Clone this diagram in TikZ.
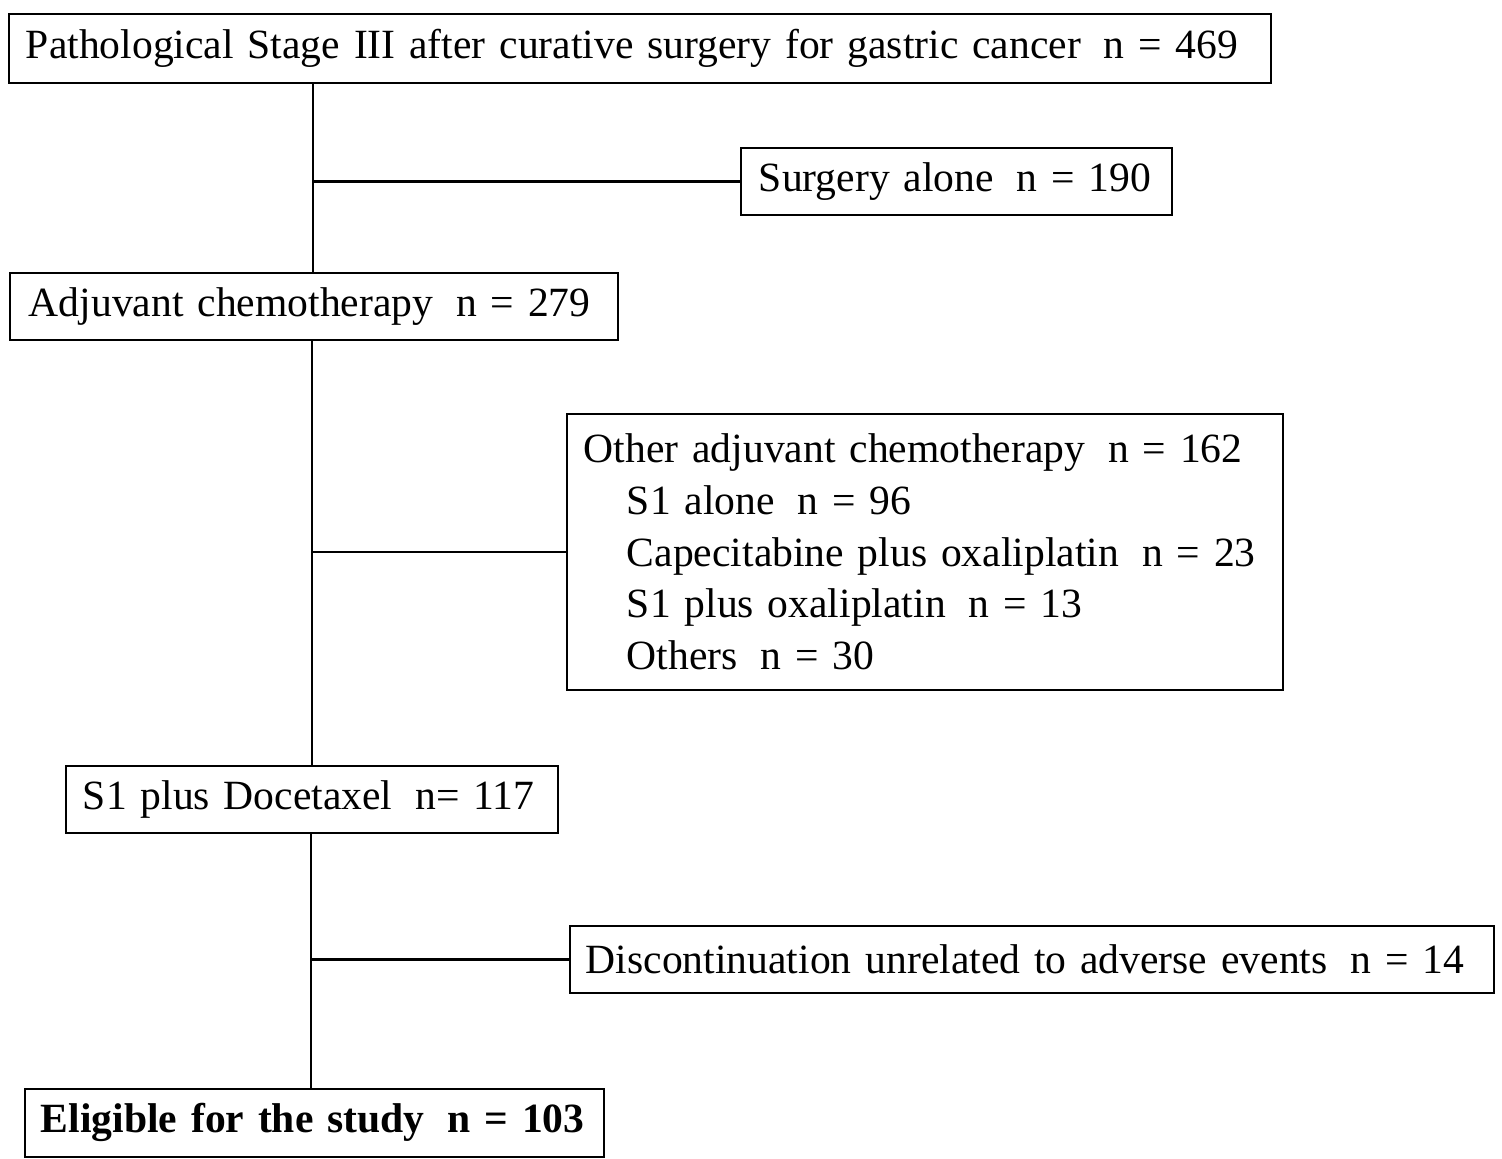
\documentclass[tikz,border=0pt]{standalone}
\usepackage{fontspec}
\setmainfont{Liberation Serif}
\begin{document}
\begin{tikzpicture}[x=0.5pt,y=-0.5pt,
  box/.style={draw,line width=0.9pt,rectangle,anchor=north west,align=left,
    font=\fontsize{20.8}{25.8}\selectfont,inner ysep=0pt},
  conn/.style={line width=1.4pt}]
\useasboundingbox (0,0) rectangle (1502,1159);
\node[box,minimum width=631pt,minimum height=34.5pt,inner xsep=8.5pt,text width=614pt] (b1) at (8,13)
  {Pathological Stage III after curative surgery for gastric cancer\hspace{0.55em}n = 469};
\node[box,minimum width=215.5pt,minimum height=33.5pt,inner xsep=9pt,text width=197.5pt] (b2) at (740,147)
  {Surgery alone\hspace{0.55em}n = 190};
\node[box,minimum width=304pt,minimum height=33.5pt,inner xsep=9.5pt,text width=285pt] (b3) at (9,272)
  {Adjuvant chemotherapy\hspace{0.55em}n = 279};
\node[box,minimum width=358pt,minimum height=138pt,inner xsep=8.5pt,text width=341pt] (b4) at (566,413)
  {Other adjuvant chemotherapy\hspace{0.55em}n = 162\\
   \hspace*{21.5pt}S1 alone\hspace{0.55em}n = 96\\
   \hspace*{21.5pt}Capecitabine plus oxaliplatin\hspace{0.55em}n = 23\\
   \hspace*{21.5pt}S1 plus oxaliplatin\hspace{0.55em}n = 13\\
   \hspace*{21.5pt}Others\hspace{0.55em}n = 30};
\node[box,minimum width=246pt,minimum height=33.5pt,inner xsep=8.5pt,text width=229pt] (b5) at (65,765)
  {S1 plus Docetaxel\hspace{0.55em}n= 117};
\node[box,minimum width=462pt,minimum height=33.5pt,inner xsep=8pt,text width=446pt] (b6) at (569,925)
  {Discontinuation unrelated to adverse events\hspace{0.55em}n = 14};
\node[box,minimum width=289.5pt,minimum height=34pt,inner xsep=8pt,text width=273.5pt,font=\fontsize{20.8}{25.8}\selectfont\bfseries] (b7) at (24,1088)
  {Eligible for the study\hspace{0.55em}n = 103};
\coordinate (t1) at (313,0);
\coordinate (t2) at (312,0);
\coordinate (t3) at (311,0);
\draw[conn] (b1.south -| t1) -- (b3.north -| t1);
\draw[conn] (t1 |- b2.west) -- (b2.west);
\draw[conn] (b3.south -| t2) -- (b5.north -| t2);
\draw[conn] (t2 |- b4.west) -- (b4.west);
\draw[conn] (b5.south -| t3) -- (b7.north -| t3);
\draw[conn] (t3 |- b6.west) -- (b6.west);
\end{tikzpicture}
\end{document}
